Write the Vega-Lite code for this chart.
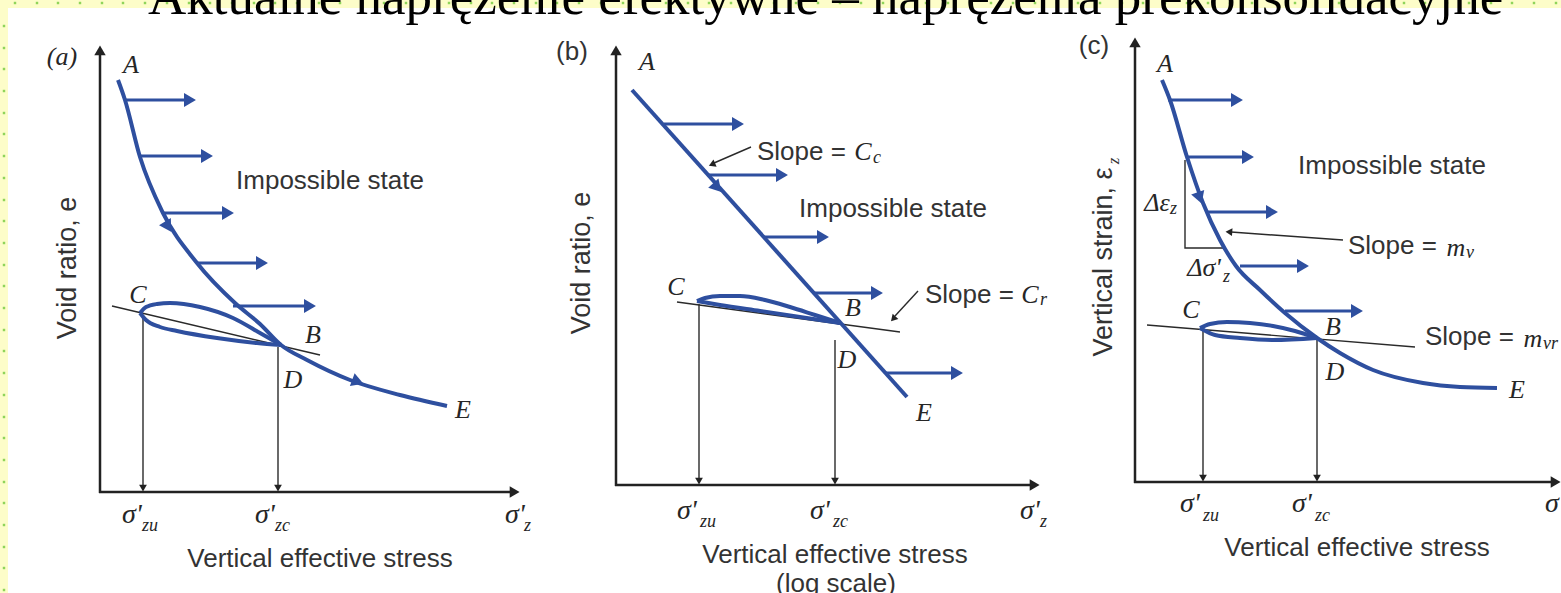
{
  "$schema": "https://vega.github.io/schema/vega-lite/v6.json",
  "width": 1561,
  "height": 593,
  "autosize": "none",
  "padding": 0,
  "background": "#ffffff",
  "config": {"view": {"stroke": null}},
  "datasets": {
    "bg": [
      {"x": 0, "x2": 1561, "y": 0, "y2": 8},
      {"x": 0, "x2": 8, "y": 0, "y2": 593}
    ],
    "dots": [
      {"x": 4, "y": 26}, {"x": 4, "y": 48}, {"x": 4, "y": 69}, {"x": 4, "y": 91}, {"x": 4, "y": 113}, {"x": 4, "y": 134}, {"x": 4, "y": 156}, {"x": 4, "y": 178}, {"x": 4, "y": 200}, {"x": 4, "y": 221}, {"x": 4, "y": 243}, {"x": 4, "y": 265}, {"x": 4, "y": 286}, {"x": 4, "y": 308}, {"x": 4, "y": 330}, {"x": 4, "y": 351}, {"x": 4, "y": 373}, {"x": 4, "y": 395}, {"x": 4, "y": 417}, {"x": 4, "y": 438}, {"x": 4, "y": 460}, {"x": 4, "y": 482}, {"x": 4, "y": 503}, {"x": 4, "y": 525}, {"x": 4, "y": 547}, {"x": 4, "y": 568}, {"x": 4, "y": 590},
      {"x": 15, "y": 3}, {"x": 37, "y": 3}, {"x": 58, "y": 3}, {"x": 80, "y": 3}, {"x": 102, "y": 3}, {"x": 123, "y": 3}, {"x": 145, "y": 3}, {"x": 167, "y": 3}, {"x": 189, "y": 3}, {"x": 210, "y": 3}, {"x": 232, "y": 3}, {"x": 254, "y": 3}, {"x": 275, "y": 3}, {"x": 297, "y": 3}, {"x": 319, "y": 3}, {"x": 340, "y": 3}, {"x": 362, "y": 3}, {"x": 384, "y": 3}, {"x": 406, "y": 3}, {"x": 427, "y": 3}, {"x": 449, "y": 3}, {"x": 471, "y": 3}, {"x": 492, "y": 3}, {"x": 514, "y": 3}, {"x": 536, "y": 3}, {"x": 557, "y": 3}, {"x": 579, "y": 3}, {"x": 601, "y": 3}, {"x": 623, "y": 3}, {"x": 644, "y": 3}, {"x": 666, "y": 3}, {"x": 688, "y": 3}, {"x": 709, "y": 3}, {"x": 731, "y": 3}, {"x": 753, "y": 3}, {"x": 774, "y": 3}, {"x": 796, "y": 3}, {"x": 818, "y": 3}, {"x": 840, "y": 3}, {"x": 861, "y": 3}, {"x": 883, "y": 3}, {"x": 905, "y": 3}, {"x": 926, "y": 3}, {"x": 948, "y": 3}, {"x": 970, "y": 3}, {"x": 991, "y": 3}, {"x": 1013, "y": 3}, {"x": 1035, "y": 3}, {"x": 1057, "y": 3}, {"x": 1078, "y": 3}, {"x": 1100, "y": 3}, {"x": 1122, "y": 3}, {"x": 1143, "y": 3}, {"x": 1165, "y": 3}, {"x": 1187, "y": 3}, {"x": 1208, "y": 3}, {"x": 1230, "y": 3}, {"x": 1252, "y": 3}, {"x": 1274, "y": 3}, {"x": 1295, "y": 3}, {"x": 1317, "y": 3}, {"x": 1339, "y": 3}, {"x": 1360, "y": 3}, {"x": 1382, "y": 3}, {"x": 1404, "y": 3}, {"x": 1425, "y": 3}, {"x": 1447, "y": 3}, {"x": 1469, "y": 3}, {"x": 1491, "y": 3}, {"x": 1512, "y": 3}, {"x": 1534, "y": 3}, {"x": 1556, "y": 3}
    ],
    "banner": [
      {"t": "Aktualne naprężenie efektywne – naprężenia prekonsolidacyjne", "x": 148, "y": 14}
    ],
    "axes": [
      {"id": "a_y", "o": 0, "x": 100, "y": 493}, {"id": "a_y", "o": 1, "x": 100, "y": 52},
      {"id": "a_x", "o": 0, "x": 99, "y": 492}, {"id": "a_x", "o": 1, "x": 512, "y": 492},
      {"id": "b_y", "o": 0, "x": 616, "y": 486}, {"id": "b_y", "o": 1, "x": 616, "y": 52},
      {"id": "b_x", "o": 0, "x": 615, "y": 485}, {"id": "b_x", "o": 1, "x": 1032, "y": 485},
      {"id": "c_y", "o": 0, "x": 1135, "y": 483}, {"id": "c_y", "o": 1, "x": 1135, "y": 44},
      {"id": "c_x", "o": 0, "x": 1134, "y": 482}, {"id": "c_x", "o": 1, "x": 1553, "y": 482}
    ],
    "thin": [
      {"id": "a_cr", "o": 0, "x": 112, "y": 306}, {"id": "a_cr", "o": 1, "x": 320, "y": 355},
      {"id": "a_d1", "o": 0, "x": 143, "y": 315}, {"id": "a_d1", "o": 1, "x": 143, "y": 486},
      {"id": "a_d2", "o": 0, "x": 278, "y": 347}, {"id": "a_d2", "o": 1, "x": 278, "y": 486},
      {"id": "b_cr", "o": 0, "x": 677, "y": 302}, {"id": "b_cr", "o": 1, "x": 900, "y": 332},
      {"id": "b_d1", "o": 0, "x": 699, "y": 304}, {"id": "b_d1", "o": 1, "x": 699, "y": 479},
      {"id": "b_d2", "o": 0, "x": 835, "y": 340}, {"id": "b_d2", "o": 1, "x": 835, "y": 479},
      {"id": "b_l1", "o": 0, "x": 751, "y": 147}, {"id": "b_l1", "o": 1, "x": 714, "y": 163},
      {"id": "b_l2", "o": 0, "x": 918, "y": 291}, {"id": "b_l2", "o": 1, "x": 895, "y": 316},
      {"id": "c_mv", "o": 0, "x": 1147, "y": 325}, {"id": "c_mv", "o": 1, "x": 1415, "y": 347},
      {"id": "c_d1", "o": 0, "x": 1203, "y": 330}, {"id": "c_d1", "o": 1, "x": 1203, "y": 476},
      {"id": "c_d2", "o": 0, "x": 1317, "y": 340}, {"id": "c_d2", "o": 1, "x": 1317, "y": 476},
      {"id": "c_tr", "o": 0, "x": 1185, "y": 160}, {"id": "c_tr", "o": 1, "x": 1185, "y": 248}, {"id": "c_tr", "o": 2, "x": 1226, "y": 248},
      {"id": "c_l1", "o": 0, "x": 1343, "y": 240}, {"id": "c_l1", "o": 1, "x": 1231, "y": 232}
    ],
    "blue": [
      {"id": "a_main", "o": 0, "x": 118, "y": 80}, {"id": "a_main", "o": 1, "x": 125, "y": 100}, {"id": "a_main", "o": 2, "x": 140, "y": 157}, {"id": "a_main", "o": 3, "x": 163, "y": 213}, {"id": "a_main", "o": 4, "x": 197, "y": 263}, {"id": "a_main", "o": 5, "x": 235, "y": 303}, {"id": "a_main", "o": 6, "x": 260, "y": 324}, {"id": "a_main", "o": 7, "x": 281, "y": 345}, {"id": "a_main", "o": 8, "x": 307, "y": 360}, {"id": "a_main", "o": 9, "x": 350, "y": 380}, {"id": "a_main", "o": 10, "x": 400, "y": 395}, {"id": "a_main", "o": 11, "x": 447, "y": 406},
      {"id": "a_up", "o": 0, "x": 140, "y": 313}, {"id": "a_up", "o": 1, "x": 146, "y": 307}, {"id": "a_up", "o": 2, "x": 157, "y": 304}, {"id": "a_up", "o": 3, "x": 170, "y": 303}, {"id": "a_up", "o": 4, "x": 200, "y": 307}, {"id": "a_up", "o": 5, "x": 233, "y": 318}, {"id": "a_up", "o": 6, "x": 260, "y": 333}, {"id": "a_up", "o": 7, "x": 281, "y": 345},
      {"id": "a_lo", "o": 0, "x": 140, "y": 313}, {"id": "a_lo", "o": 1, "x": 146, "y": 320}, {"id": "a_lo", "o": 2, "x": 160, "y": 327}, {"id": "a_lo", "o": 3, "x": 177, "y": 331}, {"id": "a_lo", "o": 4, "x": 217, "y": 338}, {"id": "a_lo", "o": 5, "x": 257, "y": 343}, {"id": "a_lo", "o": 6, "x": 281, "y": 345},
      {"id": "b_main", "o": 0, "x": 632, "y": 90}, {"id": "b_main", "o": 1, "x": 907, "y": 397},
      {"id": "b_up", "o": 0, "x": 697, "y": 301}, {"id": "b_up", "o": 1, "x": 705, "y": 298}, {"id": "b_up", "o": 2, "x": 720, "y": 296}, {"id": "b_up", "o": 3, "x": 740, "y": 296}, {"id": "b_up", "o": 4, "x": 765, "y": 300}, {"id": "b_up", "o": 5, "x": 790, "y": 307}, {"id": "b_up", "o": 6, "x": 815, "y": 315}, {"id": "b_up", "o": 7, "x": 840, "y": 323},
      {"id": "b_lo", "o": 0, "x": 697, "y": 301}, {"id": "b_lo", "o": 1, "x": 720, "y": 305}, {"id": "b_lo", "o": 2, "x": 760, "y": 311}, {"id": "b_lo", "o": 3, "x": 800, "y": 317}, {"id": "b_lo", "o": 4, "x": 840, "y": 323},
      {"id": "c_main", "o": 0, "x": 1162, "y": 80}, {"id": "c_main", "o": 1, "x": 1170, "y": 100}, {"id": "c_main", "o": 2, "x": 1187, "y": 157}, {"id": "c_main", "o": 3, "x": 1203, "y": 203}, {"id": "c_main", "o": 4, "x": 1220, "y": 240}, {"id": "c_main", "o": 5, "x": 1236, "y": 266}, {"id": "c_main", "o": 6, "x": 1260, "y": 290}, {"id": "c_main", "o": 7, "x": 1285, "y": 313}, {"id": "c_main", "o": 8, "x": 1317, "y": 338}, {"id": "c_main", "o": 9, "x": 1340, "y": 353}, {"id": "c_main", "o": 10, "x": 1373, "y": 370}, {"id": "c_main", "o": 11, "x": 1423, "y": 383}, {"id": "c_main", "o": 12, "x": 1460, "y": 387}, {"id": "c_main", "o": 13, "x": 1497, "y": 388},
      {"id": "c_up", "o": 0, "x": 1200, "y": 328}, {"id": "c_up", "o": 1, "x": 1210, "y": 324}, {"id": "c_up", "o": 2, "x": 1227, "y": 322}, {"id": "c_up", "o": 3, "x": 1250, "y": 323}, {"id": "c_up", "o": 4, "x": 1273, "y": 326}, {"id": "c_up", "o": 5, "x": 1295, "y": 331}, {"id": "c_up", "o": 6, "x": 1317, "y": 338},
      {"id": "c_lo", "o": 0, "x": 1200, "y": 328}, {"id": "c_lo", "o": 1, "x": 1215, "y": 335}, {"id": "c_lo", "o": 2, "x": 1240, "y": 338}, {"id": "c_lo", "o": 3, "x": 1273, "y": 340}, {"id": "c_lo", "o": 4, "x": 1317, "y": 338}
    ],
    "shafts": [
      {"id": "a1", "x": 125, "y": 100}, {"id": "a1", "x": 187, "y": 100},
      {"id": "a2", "x": 140, "y": 156}, {"id": "a2", "x": 204, "y": 156},
      {"id": "a3", "x": 163, "y": 213}, {"id": "a3", "x": 225, "y": 213},
      {"id": "a4", "x": 197, "y": 263}, {"id": "a4", "x": 259, "y": 263},
      {"id": "a5", "x": 233, "y": 306}, {"id": "a5", "x": 307, "y": 306},
      {"id": "b1", "x": 664, "y": 124}, {"id": "b1", "x": 735, "y": 124},
      {"id": "b2", "x": 708, "y": 175}, {"id": "b2", "x": 779, "y": 175},
      {"id": "b3", "x": 764, "y": 237}, {"id": "b3", "x": 820, "y": 237},
      {"id": "b4", "x": 814, "y": 293}, {"id": "b4", "x": 874, "y": 293},
      {"id": "b5", "x": 886, "y": 373}, {"id": "b5", "x": 954, "y": 373},
      {"id": "c1", "x": 1168, "y": 100}, {"id": "c1", "x": 1234, "y": 100},
      {"id": "c2", "x": 1187, "y": 157}, {"id": "c2", "x": 1245, "y": 157},
      {"id": "c3", "x": 1207, "y": 212}, {"id": "c3", "x": 1269, "y": 212},
      {"id": "c4", "x": 1240, "y": 266}, {"id": "c4", "x": 1300, "y": 266},
      {"id": "c5", "x": 1285, "y": 311}, {"id": "c5", "x": 1354, "y": 311}
    ],
    "bheads": [
      {"x": 188, "y": 100, "dir": 90}, {"x": 205, "y": 156, "dir": 90}, {"x": 226, "y": 213, "dir": 90}, {"x": 260, "y": 263, "dir": 90}, {"x": 308, "y": 306, "dir": 90},
      {"x": 736, "y": 124, "dir": 90}, {"x": 780, "y": 175, "dir": 90}, {"x": 821, "y": 237, "dir": 90}, {"x": 875, "y": 293, "dir": 90}, {"x": 955, "y": 373, "dir": 90},
      {"x": 1235, "y": 100, "dir": 90}, {"x": 1246, "y": 157, "dir": 90}, {"x": 1270, "y": 212, "dir": 90}, {"x": 1301, "y": 266, "dir": 90}, {"x": 1355, "y": 311, "dir": 90},
      {"x": 167, "y": 225, "dir": 149}, {"x": 356, "y": 381, "dir": 110}, {"x": 716, "y": 186, "dir": 138}, {"x": 1199, "y": 196, "dir": 161}
    ],
    "kheads": [
      {"x": 100, "y": 52, "dir": 0}, {"x": 513, "y": 492, "dir": 90},
      {"x": 616, "y": 52, "dir": 0}, {"x": 1033, "y": 485, "dir": 90},
      {"x": 1135, "y": 44, "dir": 0}, {"x": 1554, "y": 482, "dir": 90}
    ],
    "sheads": [
      {"x": 143, "y": 487, "dir": 180}, {"x": 278, "y": 487, "dir": 180},
      {"x": 699, "y": 480, "dir": 180}, {"x": 835, "y": 480, "dir": 180},
      {"x": 1203, "y": 477, "dir": 180}, {"x": 1317, "y": 477, "dir": 180},
      {"x": 713, "y": 164, "dir": 246}, {"x": 894, "y": 318, "dir": 222}, {"x": 1230, "y": 232, "dir": 274}
    ],
    "italic": [
      {"t": "(a)", "x": 62, "y": 57},
      {"t": "A", "x": 131, "y": 65}, {"t": "C", "x": 138, "y": 295}, {"t": "B", "x": 313, "y": 335}, {"t": "D", "x": 293, "y": 380}, {"t": "E", "x": 463, "y": 410},
      {"t": "A", "x": 647, "y": 62}, {"t": "C", "x": 676, "y": 287}, {"t": "B", "x": 853, "y": 308}, {"t": "D", "x": 847, "y": 360}, {"t": "E", "x": 924, "y": 413},
      {"t": "A", "x": 1165, "y": 64}, {"t": "C", "x": 1191, "y": 310}, {"t": "B", "x": 1333, "y": 327}, {"t": "D", "x": 1335, "y": 372}, {"t": "E", "x": 1517, "y": 390},
      {"t": "C", "x": 863, "y": 152}, {"t": "C", "x": 1030, "y": 295}, {"t": "m", "x": 1456, "y": 248}, {"t": "m", "x": 1533, "y": 339},
      {"t": "Δε", "x": 1157, "y": 203}, {"t": "Δσ'", "x": 1204, "y": 268}
    ],
    "sig": [
      {"t": "σ'", "x": 122, "y": 523}, {"t": "σ'", "x": 255, "y": 523}, {"t": "σ'", "x": 505, "y": 523},
      {"t": "σ'", "x": 677, "y": 519}, {"t": "σ'", "x": 810, "y": 519}, {"t": "σ'", "x": 1020, "y": 519},
      {"t": "σ'", "x": 1180, "y": 512}, {"t": "σ'", "x": 1292, "y": 512}, {"t": "σ", "x": 1545, "y": 512}
    ],
    "sub": [
      {"t": "zu", "x": 142, "y": 531}, {"t": "zc", "x": 275, "y": 531}, {"t": "z", "x": 524, "y": 531},
      {"t": "zu", "x": 700, "y": 527}, {"t": "zc", "x": 833, "y": 527}, {"t": "z", "x": 1040, "y": 527},
      {"t": "zu", "x": 1203, "y": 521}, {"t": "zc", "x": 1315, "y": 521},
      {"t": "c", "x": 873, "y": 163}, {"t": "r", "x": 1040, "y": 305}, {"t": "v", "x": 1466, "y": 258}, {"t": "vr", "x": 1543, "y": 349},
      {"t": "z", "x": 1170, "y": 214}, {"t": "z", "x": 1223, "y": 282}
    ],
    "sans": [
      {"t": "Impossible state", "x": 330, "y": 181}, {"t": "Impossible state", "x": 893, "y": 209}, {"t": "Impossible state", "x": 1392, "y": 166},
      {"t": "Vertical effective stress", "x": 320, "y": 559}, {"t": "Vertical effective stress", "x": 835, "y": 555}, {"t": "Vertical effective stress", "x": 1357, "y": 548},
      {"t": "(log scale)", "x": 836, "y": 584},
      {"t": "(b)", "x": 572, "y": 52}, {"t": "(c)", "x": 1094, "y": 46}
    ],
    "sansL": [
      {"t": "Slope =", "x": 757, "y": 152}, {"t": "Slope =", "x": 925, "y": 295}, {"t": "Slope =", "x": 1348, "y": 246}, {"t": "Slope =", "x": 1425, "y": 337}
    ],
    "rot": [
      {"t": "Void ratio, e", "x": 68, "y": 268}, {"t": "Void ratio, e", "x": 582, "y": 263}, {"t": "Vertical strain, ε", "x": 1104, "y": 262}
    ],
    "rotsub": [
      {"t": "z", "x": 1114, "y": 161}
    ]
  },
  "encoding": {
    "x": {"field": "x", "type": "quantitative", "scale": {"domain": [0, 1561], "nice": false, "zero": false}, "axis": null},
    "y": {"field": "y", "type": "quantitative", "scale": {"domain": [0, 593], "nice": false, "zero": false, "reverse": true}, "axis": null}
  },
  "layer": [
    {"data": {"name": "bg"}, "mark": {"type": "rect", "color": "#fdfdc9"}, "encoding": {"x2": {"field": "x2"}, "y2": {"field": "y2"}}},
    {"data": {"name": "dots"}, "mark": {"type": "point", "shape": "square", "filled": true, "size": 6, "color": "#8fd45a", "opacity": 1}},
    {"data": {"name": "banner"}, "mark": {"type": "text", "align": "left", "baseline": "alphabetic", "font": "Liberation Serif", "fontSize": 53, "color": "#000000"}, "encoding": {"text": {"field": "t"}}},
    {"data": {"name": "axes"}, "mark": {"type": "line", "color": "#222222", "strokeWidth": 2.5}, "encoding": {"detail": {"field": "id"}, "order": {"field": "o"}}},
    {"data": {"name": "thin"}, "mark": {"type": "line", "color": "#2a2a2a", "strokeWidth": 1.4}, "encoding": {"detail": {"field": "id"}, "order": {"field": "o"}}},
    {"data": {"name": "shafts"}, "mark": {"type": "line", "color": "#2e4f9f", "strokeWidth": 3}, "encoding": {"detail": {"field": "id"}}},
    {"data": {"name": "blue"}, "mark": {"type": "line", "color": "#2e4f9f", "strokeWidth": 4, "interpolate": "monotone"}, "encoding": {"detail": {"field": "id"}, "order": {"field": "o"}}},
    {"data": {"name": "bheads"}, "mark": {"type": "point", "shape": "triangle", "filled": true, "size": 190, "color": "#2e4f9f", "opacity": 1}, "encoding": {"angle": {"field": "dir", "type": "quantitative", "scale": null}}},
    {"data": {"name": "kheads"}, "mark": {"type": "point", "shape": "triangle", "filled": true, "size": 130, "color": "#222222", "opacity": 1}, "encoding": {"angle": {"field": "dir", "type": "quantitative", "scale": null}}},
    {"data": {"name": "sheads"}, "mark": {"type": "point", "shape": "triangle", "filled": true, "size": 60, "color": "#222222", "opacity": 1}, "encoding": {"angle": {"field": "dir", "type": "quantitative", "scale": null}}},
    {"data": {"name": "italic"}, "mark": {"type": "text", "align": "center", "baseline": "middle", "font": "Liberation Serif", "fontStyle": "italic", "fontSize": 26, "color": "#262626"}, "encoding": {"text": {"field": "t"}}},
    {"data": {"name": "sig"}, "mark": {"type": "text", "align": "left", "baseline": "alphabetic", "font": "Liberation Serif", "fontStyle": "italic", "fontSize": 28, "color": "#262626"}, "encoding": {"text": {"field": "t"}}},
    {"data": {"name": "sub"}, "mark": {"type": "text", "align": "left", "baseline": "alphabetic", "font": "Liberation Serif", "fontStyle": "italic", "fontSize": 18, "color": "#262626"}, "encoding": {"text": {"field": "t"}}},
    {"data": {"name": "sans"}, "mark": {"type": "text", "align": "center", "baseline": "middle", "font": "Liberation Sans", "fontSize": 26, "color": "#333333"}, "encoding": {"text": {"field": "t"}}},
    {"data": {"name": "sansL"}, "mark": {"type": "text", "align": "left", "baseline": "middle", "font": "Liberation Sans", "fontSize": 26, "color": "#333333"}, "encoding": {"text": {"field": "t"}}},
    {"data": {"name": "rot"}, "mark": {"type": "text", "align": "center", "baseline": "middle", "angle": 270, "font": "Liberation Sans", "fontSize": 27, "color": "#333333"}, "encoding": {"text": {"field": "t"}}},
    {"data": {"name": "rotsub"}, "mark": {"type": "text", "align": "center", "baseline": "middle", "angle": 270, "font": "Liberation Serif", "fontStyle": "italic", "fontSize": 17, "color": "#333333"}, "encoding": {"text": {"field": "t"}}}
  ]
}
